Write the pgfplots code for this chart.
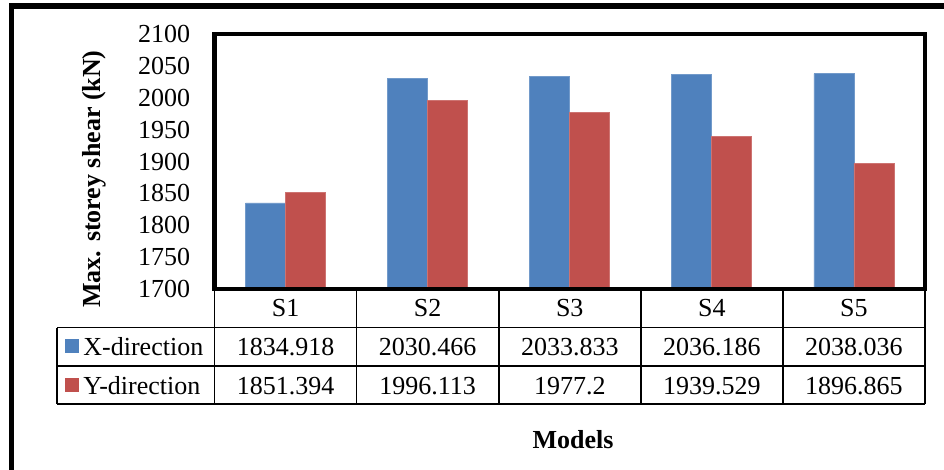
\documentclass[border=0pt]{standalone}
\usepackage{pgfplots}
\pgfplotsset{compat=1.18}
\usepackage{fontspec}
\setmainfont{Liberation Serif}
\definecolor{xblue}{HTML}{4F81BD}
\definecolor{yred}{HTML}{C0504D}

\begin{document}
\fontsize{13}{15}\selectfont
\begin{tikzpicture}
\useasboundingbox (0,0) rectangle (472pt,-235pt);
\begin{axis}[
  at={(107.25pt,-144.5pt)}, anchor=south west,
  scale only axis, width=355.25pt, height=127.5pt,
  ybar=0pt, bar width=20pt,
  xmin=-0.5, xmax=4.5, ymin=1700, ymax=2100,
  ytick={1700,1750,...,2100}, xtick=\empty,
  major tick length=0pt,
  axis line style={draw=none},
  yticklabel style={anchor=east, inner sep=0pt, xshift=-12pt,
    font=\fontsize{13}{15}\selectfont},
  /pgf/number format/assume math mode=true,
  /pgf/number format/1000 sep={},
  clip=false,
]
\addplot[fill=xblue, draw=xblue!80!white, line width=0.4pt] coordinates
  {(0,1834.918) (1,2030.466) (2,2033.833) (3,2036.186) (4,2038.036)};
\addplot[fill=yred, draw=yred!80!white, line width=0.4pt] coordinates
  {(0,1851.394) (1,1996.113) (2,1977.2) (3,1939.529) (4,1896.865)};
\end{axis}

\begin{scope}[x=0.5pt, y=-0.5pt]
  % outer frame
  \draw[line width=2.6pt] (11.3,470) -- (11.3,6) -- (944,6);
  % plot box
  \draw[line width=2.4pt, line join=miter] (214.5,34) rectangle (925,289);
  % data table grid
  \begin{scope}[line width=0.8pt]
    \foreach \xx in {214.5,356.6,498.7,640.8,782.9,925}
      \draw (\xx,289) -- (\xx,404);
    \draw (57,327.7) -- (57,404);
    \foreach \yy in {327.7,366,404}
      \draw (57,\yy) -- (925,\yy);
  \end{scope}
  % column headers
  \foreach \lab [count=\i from 0] in {S1,S2,S3,S4,S5}
    \node at (285.55+142.1*\i,308) {\lab};
  % table values
  \foreach \v [count=\i from 0] in {1834.918,2030.466,2033.833,2036.186,2038.036}
    \node at (285.55+142.1*\i,347) {\v};
  \foreach \v [count=\i from 0] in {1851.394,1996.113,1977.2,1939.529,1896.865}
    \node at (285.55+142.1*\i,386) {\v};
  % legend keys
  \fill[xblue] (65,339) rectangle (79,353);
  \fill[yred] (65,378) rectangle (79,392);
  \node[anchor=west, inner sep=0pt] at (83,347) {X-direction};
  \node[anchor=west, inner sep=0pt] at (83,386) {Y-direction};
  % axis titles
  \node[rotate=90, font=\bfseries] at (94,179) {Max. storey shear (kN)};
  \node[font=\bfseries] at (573,440) {Models};
\end{scope}
\end{tikzpicture}
\end{document}
